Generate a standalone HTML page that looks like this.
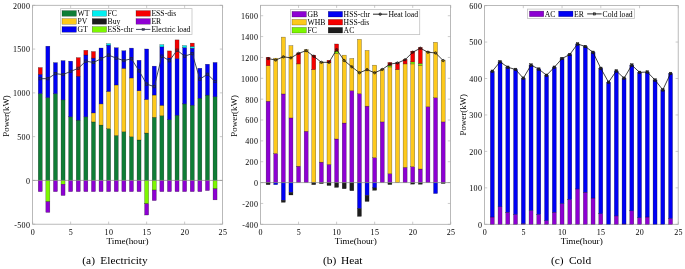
<!DOCTYPE html>
<html><head><meta charset="utf-8"><title>Power balance</title>
<style>html,body{margin:0;padding:0;background:#fff;}body{width:685px;height:269px;overflow:hidden;}svg{display:block;will-change:transform;}</style>
</head><body>
<svg width="685" height="269" viewBox="0 0 685 269" font-family='"Liberation Serif", serif' fill="#000">
<rect width="685" height="269" fill="#fff"/>
<line x1="32.65" y1="224.2" x2="32.65" y2="221.6" stroke="#a8a8a8" stroke-width="0.6"/>
<line x1="32.65" y1="5.3" x2="32.65" y2="7.9" stroke="#a8a8a8" stroke-width="0.6"/>
<text x="32.9" y="234.7" text-anchor="middle" font-size="8" letter-spacing="0.3">0</text>
<line x1="70.65" y1="224.2" x2="70.65" y2="221.6" stroke="#a8a8a8" stroke-width="0.6"/>
<line x1="70.65" y1="5.3" x2="70.65" y2="7.9" stroke="#a8a8a8" stroke-width="0.6"/>
<text x="70.9" y="234.7" text-anchor="middle" font-size="8" letter-spacing="0.3">5</text>
<line x1="108.65" y1="224.2" x2="108.65" y2="221.6" stroke="#a8a8a8" stroke-width="0.6"/>
<line x1="108.65" y1="5.3" x2="108.65" y2="7.9" stroke="#a8a8a8" stroke-width="0.6"/>
<text x="108.9" y="234.7" text-anchor="middle" font-size="8" letter-spacing="0.3">10</text>
<line x1="146.65" y1="224.2" x2="146.65" y2="221.6" stroke="#a8a8a8" stroke-width="0.6"/>
<line x1="146.65" y1="5.3" x2="146.65" y2="7.9" stroke="#a8a8a8" stroke-width="0.6"/>
<text x="146.9" y="234.7" text-anchor="middle" font-size="8" letter-spacing="0.3">15</text>
<line x1="184.65" y1="224.2" x2="184.65" y2="221.6" stroke="#a8a8a8" stroke-width="0.6"/>
<line x1="184.65" y1="5.3" x2="184.65" y2="7.9" stroke="#a8a8a8" stroke-width="0.6"/>
<text x="184.9" y="234.7" text-anchor="middle" font-size="8" letter-spacing="0.3">20</text>
<line x1="222.65" y1="224.2" x2="222.65" y2="221.6" stroke="#a8a8a8" stroke-width="0.6"/>
<line x1="222.65" y1="5.3" x2="222.65" y2="7.9" stroke="#a8a8a8" stroke-width="0.6"/>
<text x="222.9" y="234.7" text-anchor="middle" font-size="8" letter-spacing="0.3">25</text>
<line x1="32.6" y1="224.2" x2="35.2" y2="224.2" stroke="#a8a8a8" stroke-width="0.6"/>
<line x1="222.4" y1="224.2" x2="219.8" y2="224.2" stroke="#a8a8a8" stroke-width="0.6"/>
<text x="30.2" y="227.6" text-anchor="end" font-size="8" letter-spacing="0.3">-500</text>
<line x1="32.6" y1="180.42" x2="35.2" y2="180.42" stroke="#a8a8a8" stroke-width="0.6"/>
<line x1="222.4" y1="180.42" x2="219.8" y2="180.42" stroke="#a8a8a8" stroke-width="0.6"/>
<text x="30.2" y="183.82" text-anchor="end" font-size="8" letter-spacing="0.3">0</text>
<line x1="32.6" y1="136.64" x2="35.2" y2="136.64" stroke="#a8a8a8" stroke-width="0.6"/>
<line x1="222.4" y1="136.64" x2="219.8" y2="136.64" stroke="#a8a8a8" stroke-width="0.6"/>
<text x="30.2" y="140.04" text-anchor="end" font-size="8" letter-spacing="0.3">500</text>
<line x1="32.6" y1="92.86" x2="35.2" y2="92.86" stroke="#a8a8a8" stroke-width="0.6"/>
<line x1="222.4" y1="92.86" x2="219.8" y2="92.86" stroke="#a8a8a8" stroke-width="0.6"/>
<text x="30.2" y="96.26" text-anchor="end" font-size="8" letter-spacing="0.3">1000</text>
<line x1="32.6" y1="49.08" x2="35.2" y2="49.08" stroke="#a8a8a8" stroke-width="0.6"/>
<line x1="222.4" y1="49.08" x2="219.8" y2="49.08" stroke="#a8a8a8" stroke-width="0.6"/>
<text x="30.2" y="52.48" text-anchor="end" font-size="8" letter-spacing="0.3">1500</text>
<line x1="32.6" y1="5.3" x2="35.2" y2="5.3" stroke="#a8a8a8" stroke-width="0.6"/>
<line x1="222.4" y1="5.3" x2="219.8" y2="5.3" stroke="#a8a8a8" stroke-width="0.6"/>
<text x="30.2" y="8.7" text-anchor="end" font-size="8" letter-spacing="0.3">2000</text>
<rect x="32.6" y="5.3" width="189.8" height="218.9" fill="none" stroke="#a8a8a8" stroke-width="0.8"/>
<rect x="38.25" y="93.56" width="4" height="86.86" fill="#0f7d36" stroke="rgba(0,0,0,0.6)" stroke-width="0.4"/>
<rect x="38.25" y="74.3" width="4" height="19.26" fill="#0000f5" stroke="rgba(0,0,0,0.6)" stroke-width="0.4"/>
<rect x="38.25" y="67.56" width="4" height="6.74" fill="#f50000" stroke="rgba(0,0,0,0.6)" stroke-width="0.4"/>
<rect x="38.25" y="180.42" width="4" height="11.21" fill="#8d00d3" stroke="rgba(0,0,0,0.6)" stroke-width="0.4"/>
<rect x="45.85" y="97.68" width="4" height="82.74" fill="#0f7d36" stroke="rgba(0,0,0,0.6)" stroke-width="0.4"/>
<rect x="45.85" y="46.19" width="4" height="51.49" fill="#0000f5" stroke="rgba(0,0,0,0.6)" stroke-width="0.4"/>
<rect x="45.85" y="180.42" width="4" height="21.28" fill="#7df700" stroke="rgba(0,0,0,0.6)" stroke-width="0.4"/>
<rect x="45.85" y="201.7" width="4" height="10.68" fill="#8d00d3" stroke="rgba(0,0,0,0.6)" stroke-width="0.4"/>
<rect x="53.45" y="93.74" width="4" height="86.68" fill="#0f7d36" stroke="rgba(0,0,0,0.6)" stroke-width="0.4"/>
<rect x="53.45" y="62.65" width="4" height="31.08" fill="#0000f5" stroke="rgba(0,0,0,0.6)" stroke-width="0.4"/>
<rect x="53.45" y="180.42" width="4" height="11.21" fill="#8d00d3" stroke="rgba(0,0,0,0.6)" stroke-width="0.4"/>
<rect x="61.05" y="99.86" width="4" height="80.56" fill="#0f7d36" stroke="rgba(0,0,0,0.6)" stroke-width="0.4"/>
<rect x="61.05" y="60.64" width="4" height="39.23" fill="#0000f5" stroke="rgba(0,0,0,0.6)" stroke-width="0.4"/>
<rect x="61.05" y="180.42" width="4" height="3.85" fill="#7df700" stroke="rgba(0,0,0,0.6)" stroke-width="0.4"/>
<rect x="61.05" y="184.27" width="4" height="11.21" fill="#8d00d3" stroke="rgba(0,0,0,0.6)" stroke-width="0.4"/>
<rect x="68.65" y="116.85" width="4" height="63.57" fill="#0f7d36" stroke="rgba(0,0,0,0.6)" stroke-width="0.4"/>
<rect x="68.65" y="61.16" width="4" height="55.69" fill="#0000f5" stroke="rgba(0,0,0,0.6)" stroke-width="0.4"/>
<rect x="68.65" y="180.42" width="4" height="11.21" fill="#8d00d3" stroke="rgba(0,0,0,0.6)" stroke-width="0.4"/>
<rect x="76.25" y="120.18" width="4" height="60.24" fill="#0f7d36" stroke="rgba(0,0,0,0.6)" stroke-width="0.4"/>
<rect x="76.25" y="76.22" width="4" height="43.96" fill="#0000f5" stroke="rgba(0,0,0,0.6)" stroke-width="0.4"/>
<rect x="76.25" y="57.66" width="4" height="18.56" fill="#f50000" stroke="rgba(0,0,0,0.6)" stroke-width="0.4"/>
<rect x="76.25" y="180.42" width="4" height="11.21" fill="#8d00d3" stroke="rgba(0,0,0,0.6)" stroke-width="0.4"/>
<rect x="83.85" y="116.85" width="4" height="63.57" fill="#0f7d36" stroke="rgba(0,0,0,0.6)" stroke-width="0.4"/>
<rect x="83.85" y="55.03" width="4" height="61.82" fill="#0000f5" stroke="rgba(0,0,0,0.6)" stroke-width="0.4"/>
<rect x="83.85" y="50.31" width="4" height="4.73" fill="#f50000" stroke="rgba(0,0,0,0.6)" stroke-width="0.4"/>
<rect x="83.85" y="180.42" width="4" height="11.21" fill="#8d00d3" stroke="rgba(0,0,0,0.6)" stroke-width="0.4"/>
<rect x="91.45" y="121.93" width="4" height="58.49" fill="#0f7d36" stroke="rgba(0,0,0,0.6)" stroke-width="0.4"/>
<rect x="91.45" y="112.91" width="4" height="9.02" fill="#fdc91c" stroke="rgba(0,0,0,0.6)" stroke-width="0.4"/>
<rect x="91.45" y="58.1" width="4" height="54.81" fill="#0000f5" stroke="rgba(0,0,0,0.6)" stroke-width="0.4"/>
<rect x="91.45" y="51.53" width="4" height="6.57" fill="#f50000" stroke="rgba(0,0,0,0.6)" stroke-width="0.4"/>
<rect x="91.45" y="180.42" width="4" height="11.21" fill="#8d00d3" stroke="rgba(0,0,0,0.6)" stroke-width="0.4"/>
<rect x="99.05" y="125.08" width="4" height="55.34" fill="#0f7d36" stroke="rgba(0,0,0,0.6)" stroke-width="0.4"/>
<rect x="99.05" y="103.89" width="4" height="21.19" fill="#fdc91c" stroke="rgba(0,0,0,0.6)" stroke-width="0.4"/>
<rect x="99.05" y="48.03" width="4" height="55.86" fill="#0000f5" stroke="rgba(0,0,0,0.6)" stroke-width="0.4"/>
<rect x="99.05" y="180.42" width="4" height="11.21" fill="#8d00d3" stroke="rgba(0,0,0,0.6)" stroke-width="0.4"/>
<rect x="106.65" y="128.67" width="4" height="51.75" fill="#0f7d36" stroke="rgba(0,0,0,0.6)" stroke-width="0.4"/>
<rect x="106.65" y="91.46" width="4" height="37.21" fill="#fdc91c" stroke="rgba(0,0,0,0.6)" stroke-width="0.4"/>
<rect x="106.65" y="45.14" width="4" height="46.32" fill="#0000f5" stroke="rgba(0,0,0,0.6)" stroke-width="0.4"/>
<rect x="106.65" y="43.65" width="4" height="1.49" fill="#00f0f0" stroke="rgba(0,0,0,0.6)" stroke-width="0.4"/>
<rect x="106.65" y="180.42" width="4" height="11.21" fill="#8d00d3" stroke="rgba(0,0,0,0.6)" stroke-width="0.4"/>
<rect x="114.25" y="135.5" width="4" height="44.92" fill="#0f7d36" stroke="rgba(0,0,0,0.6)" stroke-width="0.4"/>
<rect x="114.25" y="84.98" width="4" height="50.52" fill="#fdc91c" stroke="rgba(0,0,0,0.6)" stroke-width="0.4"/>
<rect x="114.25" y="47.77" width="4" height="37.21" fill="#0000f5" stroke="rgba(0,0,0,0.6)" stroke-width="0.4"/>
<rect x="114.25" y="180.42" width="4" height="11.21" fill="#8d00d3" stroke="rgba(0,0,0,0.6)" stroke-width="0.4"/>
<rect x="121.85" y="131.82" width="4" height="48.6" fill="#0f7d36" stroke="rgba(0,0,0,0.6)" stroke-width="0.4"/>
<rect x="121.85" y="68.34" width="4" height="63.48" fill="#fdc91c" stroke="rgba(0,0,0,0.6)" stroke-width="0.4"/>
<rect x="121.85" y="50.74" width="4" height="17.6" fill="#0000f5" stroke="rgba(0,0,0,0.6)" stroke-width="0.4"/>
<rect x="121.85" y="180.42" width="4" height="11.21" fill="#8d00d3" stroke="rgba(0,0,0,0.6)" stroke-width="0.4"/>
<rect x="129.45" y="136.82" width="4" height="43.6" fill="#0f7d36" stroke="rgba(0,0,0,0.6)" stroke-width="0.4"/>
<rect x="129.45" y="77.97" width="4" height="58.84" fill="#fdc91c" stroke="rgba(0,0,0,0.6)" stroke-width="0.4"/>
<rect x="129.45" y="48.12" width="4" height="29.86" fill="#0000f5" stroke="rgba(0,0,0,0.6)" stroke-width="0.4"/>
<rect x="129.45" y="180.42" width="4" height="11.21" fill="#8d00d3" stroke="rgba(0,0,0,0.6)" stroke-width="0.4"/>
<rect x="137.05" y="139.97" width="4" height="40.45" fill="#0f7d36" stroke="rgba(0,0,0,0.6)" stroke-width="0.4"/>
<rect x="137.05" y="90.76" width="4" height="49.21" fill="#fdc91c" stroke="rgba(0,0,0,0.6)" stroke-width="0.4"/>
<rect x="137.05" y="60.29" width="4" height="30.47" fill="#0000f5" stroke="rgba(0,0,0,0.6)" stroke-width="0.4"/>
<rect x="137.05" y="180.42" width="4" height="11.21" fill="#8d00d3" stroke="rgba(0,0,0,0.6)" stroke-width="0.4"/>
<rect x="144.65" y="133.05" width="4" height="47.37" fill="#0f7d36" stroke="rgba(0,0,0,0.6)" stroke-width="0.4"/>
<rect x="144.65" y="99.51" width="4" height="33.54" fill="#fdc91c" stroke="rgba(0,0,0,0.6)" stroke-width="0.4"/>
<rect x="144.65" y="48.99" width="4" height="50.52" fill="#0000f5" stroke="rgba(0,0,0,0.6)" stroke-width="0.4"/>
<rect x="144.65" y="180.42" width="4" height="23.38" fill="#7df700" stroke="rgba(0,0,0,0.6)" stroke-width="0.4"/>
<rect x="144.65" y="203.8" width="4" height="11.21" fill="#8d00d3" stroke="rgba(0,0,0,0.6)" stroke-width="0.4"/>
<rect x="152.25" y="117.29" width="4" height="63.13" fill="#0f7d36" stroke="rgba(0,0,0,0.6)" stroke-width="0.4"/>
<rect x="152.25" y="95.05" width="4" height="22.24" fill="#fdc91c" stroke="rgba(0,0,0,0.6)" stroke-width="0.4"/>
<rect x="152.25" y="66.15" width="4" height="28.89" fill="#0000f5" stroke="rgba(0,0,0,0.6)" stroke-width="0.4"/>
<rect x="152.25" y="180.42" width="4" height="9.63" fill="#7df700" stroke="rgba(0,0,0,0.6)" stroke-width="0.4"/>
<rect x="152.25" y="190.05" width="4" height="10.51" fill="#8d00d3" stroke="rgba(0,0,0,0.6)" stroke-width="0.4"/>
<rect x="159.85" y="115.8" width="4" height="64.62" fill="#0f7d36" stroke="rgba(0,0,0,0.6)" stroke-width="0.4"/>
<rect x="159.85" y="105.29" width="4" height="10.51" fill="#fdc91c" stroke="rgba(0,0,0,0.6)" stroke-width="0.4"/>
<rect x="159.85" y="46.89" width="4" height="58.4" fill="#0000f5" stroke="rgba(0,0,0,0.6)" stroke-width="0.4"/>
<rect x="159.85" y="44.7" width="4" height="2.19" fill="#00f0f0" stroke="rgba(0,0,0,0.6)" stroke-width="0.4"/>
<rect x="159.85" y="180.42" width="4" height="11.21" fill="#8d00d3" stroke="rgba(0,0,0,0.6)" stroke-width="0.4"/>
<rect x="167.45" y="119.74" width="4" height="60.68" fill="#0f7d36" stroke="rgba(0,0,0,0.6)" stroke-width="0.4"/>
<rect x="167.45" y="58.01" width="4" height="61.73" fill="#0000f5" stroke="rgba(0,0,0,0.6)" stroke-width="0.4"/>
<rect x="167.45" y="50.92" width="4" height="7.09" fill="#f50000" stroke="rgba(0,0,0,0.6)" stroke-width="0.4"/>
<rect x="167.45" y="180.42" width="4" height="11.21" fill="#8d00d3" stroke="rgba(0,0,0,0.6)" stroke-width="0.4"/>
<rect x="175.05" y="115.28" width="4" height="65.14" fill="#0f7d36" stroke="rgba(0,0,0,0.6)" stroke-width="0.4"/>
<rect x="175.05" y="58.45" width="4" height="56.83" fill="#0000f5" stroke="rgba(0,0,0,0.6)" stroke-width="0.4"/>
<rect x="175.05" y="39.89" width="4" height="18.56" fill="#f50000" stroke="rgba(0,0,0,0.6)" stroke-width="0.4"/>
<rect x="175.05" y="180.42" width="4" height="11.21" fill="#8d00d3" stroke="rgba(0,0,0,0.6)" stroke-width="0.4"/>
<rect x="182.65" y="103.89" width="4" height="76.53" fill="#0f7d36" stroke="rgba(0,0,0,0.6)" stroke-width="0.4"/>
<rect x="182.65" y="47.59" width="4" height="56.3" fill="#0000f5" stroke="rgba(0,0,0,0.6)" stroke-width="0.4"/>
<rect x="182.65" y="45.58" width="4" height="2.01" fill="#00f0f0" stroke="rgba(0,0,0,0.6)" stroke-width="0.4"/>
<rect x="182.65" y="180.42" width="4" height="11.21" fill="#8d00d3" stroke="rgba(0,0,0,0.6)" stroke-width="0.4"/>
<rect x="190.25" y="105.29" width="4" height="75.13" fill="#0f7d36" stroke="rgba(0,0,0,0.6)" stroke-width="0.4"/>
<rect x="190.25" y="48.2" width="4" height="57.09" fill="#0000f5" stroke="rgba(0,0,0,0.6)" stroke-width="0.4"/>
<rect x="190.25" y="46.45" width="4" height="1.75" fill="#00f0f0" stroke="rgba(0,0,0,0.6)" stroke-width="0.4"/>
<rect x="190.25" y="43.13" width="4" height="3.33" fill="#f50000" stroke="rgba(0,0,0,0.6)" stroke-width="0.4"/>
<rect x="190.25" y="180.42" width="4" height="11.21" fill="#8d00d3" stroke="rgba(0,0,0,0.6)" stroke-width="0.4"/>
<rect x="197.85" y="98.29" width="4" height="82.13" fill="#0f7d36" stroke="rgba(0,0,0,0.6)" stroke-width="0.4"/>
<rect x="197.85" y="68.26" width="4" height="30.03" fill="#0000f5" stroke="rgba(0,0,0,0.6)" stroke-width="0.4"/>
<rect x="197.85" y="180.42" width="4" height="11.21" fill="#8d00d3" stroke="rgba(0,0,0,0.6)" stroke-width="0.4"/>
<rect x="205.45" y="95.14" width="4" height="85.28" fill="#0f7d36" stroke="rgba(0,0,0,0.6)" stroke-width="0.4"/>
<rect x="205.45" y="64.23" width="4" height="30.91" fill="#0000f5" stroke="rgba(0,0,0,0.6)" stroke-width="0.4"/>
<rect x="205.45" y="180.42" width="4" height="10.16" fill="#8d00d3" stroke="rgba(0,0,0,0.6)" stroke-width="0.4"/>
<rect x="213.05" y="96.8" width="4" height="83.62" fill="#0f7d36" stroke="rgba(0,0,0,0.6)" stroke-width="0.4"/>
<rect x="213.05" y="62.48" width="4" height="34.32" fill="#0000f5" stroke="rgba(0,0,0,0.6)" stroke-width="0.4"/>
<rect x="213.05" y="180.42" width="4" height="8.41" fill="#7df700" stroke="rgba(0,0,0,0.6)" stroke-width="0.4"/>
<rect x="213.05" y="188.83" width="4" height="11.03" fill="#8d00d3" stroke="rgba(0,0,0,0.6)" stroke-width="0.4"/>
<line x1="32.6" y1="180.42" x2="222.4" y2="180.42" stroke="#8a8a8a" stroke-width="0.7"/>
<polyline points="40.25,78.68 47.85,78.68 55.45,73.68 63.05,74.56 70.65,71.41 78.25,68.34 85.85,61.16 93.45,62.48 101.05,58.8 108.65,55.12 116.25,58.19 123.85,60.55 131.45,58.8 139.05,70.88 146.65,84.1 154.25,86.64 161.85,56.17 169.45,60.73 177.05,50.22 184.65,56.17 192.25,53.63 199.85,79.11 207.45,74.3 215.05,81.48" fill="none" stroke="#2e3650" stroke-width="0.9"/>
<rect x="39.05" y="77.48" width="2.4" height="2.4" fill="none" stroke="#1c2136" stroke-width="0.7"/>
<rect x="46.65" y="77.48" width="2.4" height="2.4" fill="none" stroke="#1c2136" stroke-width="0.7"/>
<rect x="54.25" y="72.48" width="2.4" height="2.4" fill="none" stroke="#1c2136" stroke-width="0.7"/>
<rect x="61.85" y="73.36" width="2.4" height="2.4" fill="none" stroke="#1c2136" stroke-width="0.7"/>
<rect x="69.45" y="70.21" width="2.4" height="2.4" fill="none" stroke="#1c2136" stroke-width="0.7"/>
<rect x="77.05" y="67.14" width="2.4" height="2.4" fill="none" stroke="#1c2136" stroke-width="0.7"/>
<rect x="84.65" y="59.96" width="2.4" height="2.4" fill="none" stroke="#1c2136" stroke-width="0.7"/>
<rect x="92.25" y="61.28" width="2.4" height="2.4" fill="none" stroke="#1c2136" stroke-width="0.7"/>
<rect x="99.85" y="57.6" width="2.4" height="2.4" fill="none" stroke="#1c2136" stroke-width="0.7"/>
<rect x="107.45" y="53.92" width="2.4" height="2.4" fill="none" stroke="#1c2136" stroke-width="0.7"/>
<rect x="115.05" y="56.99" width="2.4" height="2.4" fill="none" stroke="#1c2136" stroke-width="0.7"/>
<rect x="122.65" y="59.35" width="2.4" height="2.4" fill="none" stroke="#1c2136" stroke-width="0.7"/>
<rect x="130.25" y="57.6" width="2.4" height="2.4" fill="none" stroke="#1c2136" stroke-width="0.7"/>
<rect x="137.85" y="69.68" width="2.4" height="2.4" fill="none" stroke="#1c2136" stroke-width="0.7"/>
<rect x="145.45" y="82.9" width="2.4" height="2.4" fill="none" stroke="#1c2136" stroke-width="0.7"/>
<rect x="153.05" y="85.44" width="2.4" height="2.4" fill="none" stroke="#1c2136" stroke-width="0.7"/>
<rect x="160.65" y="54.97" width="2.4" height="2.4" fill="none" stroke="#1c2136" stroke-width="0.7"/>
<rect x="168.25" y="59.53" width="2.4" height="2.4" fill="none" stroke="#1c2136" stroke-width="0.7"/>
<rect x="175.85" y="49.02" width="2.4" height="2.4" fill="none" stroke="#1c2136" stroke-width="0.7"/>
<rect x="183.45" y="54.97" width="2.4" height="2.4" fill="none" stroke="#1c2136" stroke-width="0.7"/>
<rect x="191.05" y="52.43" width="2.4" height="2.4" fill="none" stroke="#1c2136" stroke-width="0.7"/>
<rect x="198.65" y="77.91" width="2.4" height="2.4" fill="none" stroke="#1c2136" stroke-width="0.7"/>
<rect x="206.25" y="73.1" width="2.4" height="2.4" fill="none" stroke="#1c2136" stroke-width="0.7"/>
<rect x="213.85" y="80.28" width="2.4" height="2.4" fill="none" stroke="#1c2136" stroke-width="0.7"/>
<rect x="60.6" y="8.6" width="131.4" height="25.8" fill="#fff" stroke="#c2c2c2" stroke-width="0.8"/>
<rect x="62" y="10.6" width="14.4" height="5.6" fill="#0f7d36" stroke="rgba(0,0,0,0.55)" stroke-width="0.4"/>
<text x="77.4" y="16" font-size="7.7">WT</text>
<rect x="62" y="18.6" width="14.4" height="5.6" fill="#fdc91c" stroke="rgba(0,0,0,0.55)" stroke-width="0.4"/>
<text x="77.4" y="24" font-size="7.7">PV</text>
<rect x="62" y="26.6" width="14.4" height="5.6" fill="#0000f5" stroke="rgba(0,0,0,0.55)" stroke-width="0.4"/>
<text x="77.4" y="32" font-size="7.7">GT</text>
<rect x="92.2" y="10.6" width="14.4" height="5.6" fill="#00f0f0" stroke="rgba(0,0,0,0.55)" stroke-width="0.4"/>
<text x="107.6" y="16" font-size="7.7">FC</text>
<rect x="92.2" y="18.6" width="14.4" height="5.6" fill="#1c1c1c" stroke="rgba(0,0,0,0.55)" stroke-width="0.4"/>
<text x="107.6" y="24" font-size="7.7">Buy</text>
<rect x="92.2" y="26.6" width="14.4" height="5.6" fill="#7df700" stroke="rgba(0,0,0,0.55)" stroke-width="0.4"/>
<text x="107.6" y="32" font-size="7.7">ESS-chr</text>
<rect x="136" y="10.6" width="14.4" height="5.6" fill="#f50000" stroke="rgba(0,0,0,0.55)" stroke-width="0.4"/>
<text x="151.4" y="16" font-size="7.7">ESS-dis</text>
<rect x="136" y="18.6" width="14.4" height="5.6" fill="#8d00d3" stroke="rgba(0,0,0,0.55)" stroke-width="0.4"/>
<text x="151.4" y="24" font-size="7.7">ER</text>
<line x1="136" y1="29.4" x2="150.4" y2="29.4" stroke="#2c3350" stroke-width="0.9"/>
<rect x="142.1" y="28.3" width="2.2" height="2.2" fill="rgba(0,0,0,0.3)" stroke="#2c3350" stroke-width="0.6"/>
<text x="151.4" y="32" font-size="7.7">Electric load</text>
<text transform="translate(6.6 116) rotate(-90)" x="0" y="2.84" text-anchor="middle" font-size="8.6" textLength="41.5" lengthAdjust="spacingAndGlyphs">Power(kW)</text>
<text x="127.6" y="244.3" text-anchor="middle" font-size="9.2">Time(hour)</text>
<text x="82.3" y="263.5" font-size="11.4">(a)</text>
<text x="100.3" y="263.5" font-size="11.4">Electricity</text>
<line x1="260.5" y1="224.3" x2="260.5" y2="221.7" stroke="#a8a8a8" stroke-width="0.6"/>
<line x1="260.5" y1="5.3" x2="260.5" y2="7.9" stroke="#a8a8a8" stroke-width="0.6"/>
<text x="260.75" y="234.7" text-anchor="middle" font-size="8" letter-spacing="0.3">0</text>
<line x1="298.56" y1="224.3" x2="298.56" y2="221.7" stroke="#a8a8a8" stroke-width="0.6"/>
<line x1="298.56" y1="5.3" x2="298.56" y2="7.9" stroke="#a8a8a8" stroke-width="0.6"/>
<text x="298.81" y="234.7" text-anchor="middle" font-size="8" letter-spacing="0.3">5</text>
<line x1="336.61" y1="224.3" x2="336.61" y2="221.7" stroke="#a8a8a8" stroke-width="0.6"/>
<line x1="336.61" y1="5.3" x2="336.61" y2="7.9" stroke="#a8a8a8" stroke-width="0.6"/>
<text x="336.86" y="234.7" text-anchor="middle" font-size="8" letter-spacing="0.3">10</text>
<line x1="374.66" y1="224.3" x2="374.66" y2="221.7" stroke="#a8a8a8" stroke-width="0.6"/>
<line x1="374.66" y1="5.3" x2="374.66" y2="7.9" stroke="#a8a8a8" stroke-width="0.6"/>
<text x="374.91" y="234.7" text-anchor="middle" font-size="8" letter-spacing="0.3">15</text>
<line x1="412.72" y1="224.3" x2="412.72" y2="221.7" stroke="#a8a8a8" stroke-width="0.6"/>
<line x1="412.72" y1="5.3" x2="412.72" y2="7.9" stroke="#a8a8a8" stroke-width="0.6"/>
<text x="412.97" y="234.7" text-anchor="middle" font-size="8" letter-spacing="0.3">20</text>
<line x1="450.77" y1="224.3" x2="450.77" y2="221.7" stroke="#a8a8a8" stroke-width="0.6"/>
<line x1="450.77" y1="5.3" x2="450.77" y2="7.9" stroke="#a8a8a8" stroke-width="0.6"/>
<text x="451.02" y="234.7" text-anchor="middle" font-size="8" letter-spacing="0.3">25</text>
<line x1="260.6" y1="224.3" x2="263.2" y2="224.3" stroke="#a8a8a8" stroke-width="0.6"/>
<line x1="450.4" y1="224.3" x2="447.8" y2="224.3" stroke="#a8a8a8" stroke-width="0.6"/>
<text x="258.2" y="227.7" text-anchor="end" font-size="8" letter-spacing="0.3">-400</text>
<line x1="260.6" y1="203.44" x2="263.2" y2="203.44" stroke="#a8a8a8" stroke-width="0.6"/>
<line x1="450.4" y1="203.44" x2="447.8" y2="203.44" stroke="#a8a8a8" stroke-width="0.6"/>
<text x="258.2" y="206.84" text-anchor="end" font-size="8" letter-spacing="0.3">-200</text>
<line x1="260.6" y1="182.59" x2="263.2" y2="182.59" stroke="#a8a8a8" stroke-width="0.6"/>
<line x1="450.4" y1="182.59" x2="447.8" y2="182.59" stroke="#a8a8a8" stroke-width="0.6"/>
<text x="258.2" y="185.99" text-anchor="end" font-size="8" letter-spacing="0.3">0</text>
<line x1="260.6" y1="161.73" x2="263.2" y2="161.73" stroke="#a8a8a8" stroke-width="0.6"/>
<line x1="450.4" y1="161.73" x2="447.8" y2="161.73" stroke="#a8a8a8" stroke-width="0.6"/>
<text x="258.2" y="165.13" text-anchor="end" font-size="8" letter-spacing="0.3">200</text>
<line x1="260.6" y1="140.87" x2="263.2" y2="140.87" stroke="#a8a8a8" stroke-width="0.6"/>
<line x1="450.4" y1="140.87" x2="447.8" y2="140.87" stroke="#a8a8a8" stroke-width="0.6"/>
<text x="258.2" y="144.27" text-anchor="end" font-size="8" letter-spacing="0.3">400</text>
<line x1="260.6" y1="120.01" x2="263.2" y2="120.01" stroke="#a8a8a8" stroke-width="0.6"/>
<line x1="450.4" y1="120.01" x2="447.8" y2="120.01" stroke="#a8a8a8" stroke-width="0.6"/>
<text x="258.2" y="123.41" text-anchor="end" font-size="8" letter-spacing="0.3">600</text>
<line x1="260.6" y1="99.16" x2="263.2" y2="99.16" stroke="#a8a8a8" stroke-width="0.6"/>
<line x1="450.4" y1="99.16" x2="447.8" y2="99.16" stroke="#a8a8a8" stroke-width="0.6"/>
<text x="258.2" y="102.56" text-anchor="end" font-size="8" letter-spacing="0.3">800</text>
<line x1="260.6" y1="78.3" x2="263.2" y2="78.3" stroke="#a8a8a8" stroke-width="0.6"/>
<line x1="450.4" y1="78.3" x2="447.8" y2="78.3" stroke="#a8a8a8" stroke-width="0.6"/>
<text x="258.2" y="81.7" text-anchor="end" font-size="8" letter-spacing="0.3">1000</text>
<line x1="260.6" y1="57.44" x2="263.2" y2="57.44" stroke="#a8a8a8" stroke-width="0.6"/>
<line x1="450.4" y1="57.44" x2="447.8" y2="57.44" stroke="#a8a8a8" stroke-width="0.6"/>
<text x="258.2" y="60.84" text-anchor="end" font-size="8" letter-spacing="0.3">1200</text>
<line x1="260.6" y1="36.59" x2="263.2" y2="36.59" stroke="#a8a8a8" stroke-width="0.6"/>
<line x1="450.4" y1="36.59" x2="447.8" y2="36.59" stroke="#a8a8a8" stroke-width="0.6"/>
<text x="258.2" y="39.99" text-anchor="end" font-size="8" letter-spacing="0.3">1400</text>
<line x1="260.6" y1="15.73" x2="263.2" y2="15.73" stroke="#a8a8a8" stroke-width="0.6"/>
<line x1="450.4" y1="15.73" x2="447.8" y2="15.73" stroke="#a8a8a8" stroke-width="0.6"/>
<text x="258.2" y="19.13" text-anchor="end" font-size="8" letter-spacing="0.3">1600</text>
<rect x="260.6" y="5.3" width="189.8" height="219" fill="none" stroke="#a8a8a8" stroke-width="0.8"/>
<rect x="266.11" y="101.24" width="4" height="81.34" fill="#8d00d3" stroke="rgba(0,0,0,0.6)" stroke-width="0.4"/>
<rect x="266.11" y="65.68" width="4" height="35.56" fill="#fdc91c" stroke="rgba(0,0,0,0.6)" stroke-width="0.4"/>
<rect x="266.11" y="57.23" width="4" height="8.45" fill="#f50000" stroke="rgba(0,0,0,0.6)" stroke-width="0.4"/>
<rect x="266.11" y="182.59" width="4" height="2.09" fill="#1c1c1c" stroke="rgba(0,0,0,0.6)" stroke-width="0.4"/>
<rect x="273.72" y="153.49" width="4" height="29.1" fill="#8d00d3" stroke="rgba(0,0,0,0.6)" stroke-width="0.4"/>
<rect x="273.72" y="58.17" width="4" height="95.32" fill="#fdc91c" stroke="rgba(0,0,0,0.6)" stroke-width="0.4"/>
<rect x="273.72" y="182.59" width="4" height="2.09" fill="#0000f5" stroke="rgba(0,0,0,0.6)" stroke-width="0.4"/>
<rect x="281.33" y="93.94" width="4" height="88.64" fill="#8d00d3" stroke="rgba(0,0,0,0.6)" stroke-width="0.4"/>
<rect x="281.33" y="37.11" width="4" height="56.84" fill="#fdc91c" stroke="rgba(0,0,0,0.6)" stroke-width="0.4"/>
<rect x="281.33" y="182.59" width="4" height="17.73" fill="#0000f5" stroke="rgba(0,0,0,0.6)" stroke-width="0.4"/>
<rect x="281.33" y="200.31" width="4" height="1.98" fill="#1c1c1c" stroke="rgba(0,0,0,0.6)" stroke-width="0.4"/>
<rect x="288.94" y="117.93" width="4" height="64.66" fill="#8d00d3" stroke="rgba(0,0,0,0.6)" stroke-width="0.4"/>
<rect x="288.94" y="45.66" width="4" height="72.27" fill="#fdc91c" stroke="rgba(0,0,0,0.6)" stroke-width="0.4"/>
<rect x="288.94" y="182.59" width="4" height="9.91" fill="#0000f5" stroke="rgba(0,0,0,0.6)" stroke-width="0.4"/>
<rect x="288.94" y="192.49" width="4" height="2.5" fill="#1c1c1c" stroke="rgba(0,0,0,0.6)" stroke-width="0.4"/>
<rect x="296.56" y="166.21" width="4" height="16.37" fill="#8d00d3" stroke="rgba(0,0,0,0.6)" stroke-width="0.4"/>
<rect x="296.56" y="63.91" width="4" height="102.3" fill="#fdc91c" stroke="rgba(0,0,0,0.6)" stroke-width="0.4"/>
<rect x="296.56" y="52.96" width="4" height="10.95" fill="#f50000" stroke="rgba(0,0,0,0.6)" stroke-width="0.4"/>
<rect x="304.17" y="131.28" width="4" height="51.31" fill="#8d00d3" stroke="rgba(0,0,0,0.6)" stroke-width="0.4"/>
<rect x="304.17" y="49.62" width="4" height="81.66" fill="#fdc91c" stroke="rgba(0,0,0,0.6)" stroke-width="0.4"/>
<rect x="311.78" y="69.64" width="4" height="112.94" fill="#fdc91c" stroke="rgba(0,0,0,0.6)" stroke-width="0.4"/>
<rect x="311.78" y="55.15" width="4" height="14.5" fill="#f50000" stroke="rgba(0,0,0,0.6)" stroke-width="0.4"/>
<rect x="311.78" y="182.59" width="4" height="2.09" fill="#1c1c1c" stroke="rgba(0,0,0,0.6)" stroke-width="0.4"/>
<rect x="319.39" y="162.15" width="4" height="20.44" fill="#8d00d3" stroke="rgba(0,0,0,0.6)" stroke-width="0.4"/>
<rect x="319.39" y="61.93" width="4" height="100.22" fill="#fdc91c" stroke="rgba(0,0,0,0.6)" stroke-width="0.4"/>
<rect x="319.39" y="182.59" width="4" height="1.04" fill="#1c1c1c" stroke="rgba(0,0,0,0.6)" stroke-width="0.4"/>
<rect x="327" y="164.44" width="4" height="18.15" fill="#8d00d3" stroke="rgba(0,0,0,0.6)" stroke-width="0.4"/>
<rect x="327" y="62.76" width="4" height="101.68" fill="#fdc91c" stroke="rgba(0,0,0,0.6)" stroke-width="0.4"/>
<rect x="327" y="60.26" width="4" height="2.5" fill="#f50000" stroke="rgba(0,0,0,0.6)" stroke-width="0.4"/>
<rect x="327" y="182.59" width="4" height="2.92" fill="#1c1c1c" stroke="rgba(0,0,0,0.6)" stroke-width="0.4"/>
<rect x="334.61" y="138.99" width="4" height="43.59" fill="#8d00d3" stroke="rgba(0,0,0,0.6)" stroke-width="0.4"/>
<rect x="334.61" y="53.38" width="4" height="85.62" fill="#fdc91c" stroke="rgba(0,0,0,0.6)" stroke-width="0.4"/>
<rect x="334.61" y="51.19" width="4" height="2.19" fill="#7df700" stroke="rgba(0,0,0,0.6)" stroke-width="0.4"/>
<rect x="334.61" y="43.99" width="4" height="7.2" fill="#f50000" stroke="rgba(0,0,0,0.6)" stroke-width="0.4"/>
<rect x="334.61" y="182.59" width="4" height="4.8" fill="#1c1c1c" stroke="rgba(0,0,0,0.6)" stroke-width="0.4"/>
<rect x="342.22" y="123.04" width="4" height="59.55" fill="#8d00d3" stroke="rgba(0,0,0,0.6)" stroke-width="0.4"/>
<rect x="342.22" y="55.15" width="4" height="67.89" fill="#fdc91c" stroke="rgba(0,0,0,0.6)" stroke-width="0.4"/>
<rect x="342.22" y="182.59" width="4" height="6.15" fill="#1c1c1c" stroke="rgba(0,0,0,0.6)" stroke-width="0.4"/>
<rect x="349.83" y="90.71" width="4" height="91.88" fill="#8d00d3" stroke="rgba(0,0,0,0.6)" stroke-width="0.4"/>
<rect x="349.83" y="58.49" width="4" height="32.22" fill="#fdc91c" stroke="rgba(0,0,0,0.6)" stroke-width="0.4"/>
<rect x="349.83" y="182.59" width="4" height="8.13" fill="#1c1c1c" stroke="rgba(0,0,0,0.6)" stroke-width="0.4"/>
<rect x="357.44" y="93.73" width="4" height="88.85" fill="#8d00d3" stroke="rgba(0,0,0,0.6)" stroke-width="0.4"/>
<rect x="357.44" y="39.4" width="4" height="54.33" fill="#fdc91c" stroke="rgba(0,0,0,0.6)" stroke-width="0.4"/>
<rect x="357.44" y="182.59" width="4" height="26.07" fill="#0000f5" stroke="rgba(0,0,0,0.6)" stroke-width="0.4"/>
<rect x="357.44" y="208.66" width="4" height="7.72" fill="#1c1c1c" stroke="rgba(0,0,0,0.6)" stroke-width="0.4"/>
<rect x="365.05" y="106.14" width="4" height="76.44" fill="#8d00d3" stroke="rgba(0,0,0,0.6)" stroke-width="0.4"/>
<rect x="365.05" y="50.46" width="4" height="55.69" fill="#fdc91c" stroke="rgba(0,0,0,0.6)" stroke-width="0.4"/>
<rect x="365.05" y="182.59" width="4" height="12.83" fill="#0000f5" stroke="rgba(0,0,0,0.6)" stroke-width="0.4"/>
<rect x="365.05" y="195.41" width="4" height="6.05" fill="#1c1c1c" stroke="rgba(0,0,0,0.6)" stroke-width="0.4"/>
<rect x="372.66" y="157.66" width="4" height="24.92" fill="#8d00d3" stroke="rgba(0,0,0,0.6)" stroke-width="0.4"/>
<rect x="372.66" y="65.16" width="4" height="92.5" fill="#fdc91c" stroke="rgba(0,0,0,0.6)" stroke-width="0.4"/>
<rect x="372.66" y="182.59" width="4" height="5.32" fill="#0000f5" stroke="rgba(0,0,0,0.6)" stroke-width="0.4"/>
<rect x="372.66" y="187.9" width="4" height="2.4" fill="#1c1c1c" stroke="rgba(0,0,0,0.6)" stroke-width="0.4"/>
<rect x="380.28" y="121.89" width="4" height="60.69" fill="#8d00d3" stroke="rgba(0,0,0,0.6)" stroke-width="0.4"/>
<rect x="380.28" y="69.02" width="4" height="52.87" fill="#fdc91c" stroke="rgba(0,0,0,0.6)" stroke-width="0.4"/>
<rect x="387.89" y="173.72" width="4" height="8.86" fill="#8d00d3" stroke="rgba(0,0,0,0.6)" stroke-width="0.4"/>
<rect x="387.89" y="66.93" width="4" height="106.79" fill="#fdc91c" stroke="rgba(0,0,0,0.6)" stroke-width="0.4"/>
<rect x="387.89" y="65.37" width="4" height="1.56" fill="#7df700" stroke="rgba(0,0,0,0.6)" stroke-width="0.4"/>
<rect x="387.89" y="62.45" width="4" height="2.92" fill="#f50000" stroke="rgba(0,0,0,0.6)" stroke-width="0.4"/>
<rect x="387.89" y="182.59" width="4" height="1.98" fill="#1c1c1c" stroke="rgba(0,0,0,0.6)" stroke-width="0.4"/>
<rect x="395.5" y="69.64" width="4" height="112.94" fill="#fdc91c" stroke="rgba(0,0,0,0.6)" stroke-width="0.4"/>
<rect x="395.5" y="62.76" width="4" height="6.88" fill="#f50000" stroke="rgba(0,0,0,0.6)" stroke-width="0.4"/>
<rect x="403.11" y="167.36" width="4" height="15.23" fill="#8d00d3" stroke="rgba(0,0,0,0.6)" stroke-width="0.4"/>
<rect x="403.11" y="63.91" width="4" height="103.45" fill="#fdc91c" stroke="rgba(0,0,0,0.6)" stroke-width="0.4"/>
<rect x="403.11" y="59.42" width="4" height="4.48" fill="#f50000" stroke="rgba(0,0,0,0.6)" stroke-width="0.4"/>
<rect x="410.72" y="166.73" width="4" height="15.85" fill="#8d00d3" stroke="rgba(0,0,0,0.6)" stroke-width="0.4"/>
<rect x="410.72" y="63.91" width="4" height="102.83" fill="#fdc91c" stroke="rgba(0,0,0,0.6)" stroke-width="0.4"/>
<rect x="410.72" y="61.93" width="4" height="1.98" fill="#7df700" stroke="rgba(0,0,0,0.6)" stroke-width="0.4"/>
<rect x="410.72" y="51.19" width="4" height="10.74" fill="#f50000" stroke="rgba(0,0,0,0.6)" stroke-width="0.4"/>
<rect x="410.72" y="182.59" width="4" height="1.56" fill="#1c1c1c" stroke="rgba(0,0,0,0.6)" stroke-width="0.4"/>
<rect x="418.33" y="169.03" width="4" height="13.56" fill="#8d00d3" stroke="rgba(0,0,0,0.6)" stroke-width="0.4"/>
<rect x="418.33" y="65.16" width="4" height="103.87" fill="#fdc91c" stroke="rgba(0,0,0,0.6)" stroke-width="0.4"/>
<rect x="418.33" y="63.49" width="4" height="1.67" fill="#7df700" stroke="rgba(0,0,0,0.6)" stroke-width="0.4"/>
<rect x="418.33" y="47.43" width="4" height="16.06" fill="#f50000" stroke="rgba(0,0,0,0.6)" stroke-width="0.4"/>
<rect x="418.33" y="182.59" width="4" height="1.67" fill="#1c1c1c" stroke="rgba(0,0,0,0.6)" stroke-width="0.4"/>
<rect x="425.94" y="106.77" width="4" height="75.82" fill="#8d00d3" stroke="rgba(0,0,0,0.6)" stroke-width="0.4"/>
<rect x="425.94" y="51.6" width="4" height="55.17" fill="#fdc91c" stroke="rgba(0,0,0,0.6)" stroke-width="0.4"/>
<rect x="433.55" y="97.8" width="4" height="84.78" fill="#8d00d3" stroke="rgba(0,0,0,0.6)" stroke-width="0.4"/>
<rect x="433.55" y="42.32" width="4" height="55.48" fill="#fdc91c" stroke="rgba(0,0,0,0.6)" stroke-width="0.4"/>
<rect x="433.55" y="182.59" width="4" height="10.95" fill="#0000f5" stroke="rgba(0,0,0,0.6)" stroke-width="0.4"/>
<rect x="441.16" y="121.89" width="4" height="60.69" fill="#8d00d3" stroke="rgba(0,0,0,0.6)" stroke-width="0.4"/>
<rect x="441.16" y="60.05" width="4" height="61.84" fill="#fdc91c" stroke="rgba(0,0,0,0.6)" stroke-width="0.4"/>
<rect x="441.16" y="182.59" width="4" height="0.94" fill="#1c1c1c" stroke="rgba(0,0,0,0.6)" stroke-width="0.4"/>
<line x1="260.6" y1="182.59" x2="450.4" y2="182.59" stroke="#8a8a8a" stroke-width="0.7"/>
<polyline points="268.11,58.59 275.72,60.05 283.33,56.82 290.94,57.86 298.56,53.38 306.17,50.66 313.78,56.3 321.39,62.34 329,62.34 336.61,49.62 344.22,60.57 351.83,66.83 359.44,72.77 367.05,69.64 374.66,72.77 382.28,69.44 389.89,64.12 397.5,62.97 405.11,59.74 412.72,52.23 420.33,48.27 427.94,52.23 435.55,52.96 443.16,60.57" fill="none" stroke="#111" stroke-width="0.8"/>
<circle cx="268.11" cy="58.59" r="1.15" fill="rgba(0,0,0,0.15)" stroke="#151515" stroke-width="0.8"/>
<circle cx="275.72" cy="60.05" r="1.15" fill="rgba(0,0,0,0.15)" stroke="#151515" stroke-width="0.8"/>
<circle cx="283.33" cy="56.82" r="1.15" fill="rgba(0,0,0,0.15)" stroke="#151515" stroke-width="0.8"/>
<circle cx="290.94" cy="57.86" r="1.15" fill="rgba(0,0,0,0.15)" stroke="#151515" stroke-width="0.8"/>
<circle cx="298.56" cy="53.38" r="1.15" fill="rgba(0,0,0,0.15)" stroke="#151515" stroke-width="0.8"/>
<circle cx="306.17" cy="50.66" r="1.15" fill="rgba(0,0,0,0.15)" stroke="#151515" stroke-width="0.8"/>
<circle cx="313.78" cy="56.3" r="1.15" fill="rgba(0,0,0,0.15)" stroke="#151515" stroke-width="0.8"/>
<circle cx="321.39" cy="62.34" r="1.15" fill="rgba(0,0,0,0.15)" stroke="#151515" stroke-width="0.8"/>
<circle cx="329" cy="62.34" r="1.15" fill="rgba(0,0,0,0.15)" stroke="#151515" stroke-width="0.8"/>
<circle cx="336.61" cy="49.62" r="1.15" fill="rgba(0,0,0,0.15)" stroke="#151515" stroke-width="0.8"/>
<circle cx="344.22" cy="60.57" r="1.15" fill="rgba(0,0,0,0.15)" stroke="#151515" stroke-width="0.8"/>
<circle cx="351.83" cy="66.83" r="1.15" fill="rgba(0,0,0,0.15)" stroke="#151515" stroke-width="0.8"/>
<circle cx="359.44" cy="72.77" r="1.15" fill="rgba(0,0,0,0.15)" stroke="#151515" stroke-width="0.8"/>
<circle cx="367.05" cy="69.64" r="1.15" fill="rgba(0,0,0,0.15)" stroke="#151515" stroke-width="0.8"/>
<circle cx="374.66" cy="72.77" r="1.15" fill="rgba(0,0,0,0.15)" stroke="#151515" stroke-width="0.8"/>
<circle cx="382.28" cy="69.44" r="1.15" fill="rgba(0,0,0,0.15)" stroke="#151515" stroke-width="0.8"/>
<circle cx="389.89" cy="64.12" r="1.15" fill="rgba(0,0,0,0.15)" stroke="#151515" stroke-width="0.8"/>
<circle cx="397.5" cy="62.97" r="1.15" fill="rgba(0,0,0,0.15)" stroke="#151515" stroke-width="0.8"/>
<circle cx="405.11" cy="59.74" r="1.15" fill="rgba(0,0,0,0.15)" stroke="#151515" stroke-width="0.8"/>
<circle cx="412.72" cy="52.23" r="1.15" fill="rgba(0,0,0,0.15)" stroke="#151515" stroke-width="0.8"/>
<circle cx="420.33" cy="48.27" r="1.15" fill="rgba(0,0,0,0.15)" stroke="#151515" stroke-width="0.8"/>
<circle cx="427.94" cy="52.23" r="1.15" fill="rgba(0,0,0,0.15)" stroke="#151515" stroke-width="0.8"/>
<circle cx="435.55" cy="52.96" r="1.15" fill="rgba(0,0,0,0.15)" stroke="#151515" stroke-width="0.8"/>
<circle cx="443.16" cy="60.57" r="1.15" fill="rgba(0,0,0,0.15)" stroke="#151515" stroke-width="0.8"/>
<rect x="290.4" y="9.4" width="129.3" height="25.2" fill="#fff" stroke="#c2c2c2" stroke-width="0.8"/>
<rect x="292" y="11.4" width="14.4" height="5.6" fill="#8d00d3" stroke="rgba(0,0,0,0.55)" stroke-width="0.4"/>
<text x="307.4" y="16.8" font-size="7.7">GB</text>
<rect x="292" y="19.4" width="14.4" height="5.6" fill="#fdc91c" stroke="rgba(0,0,0,0.55)" stroke-width="0.4"/>
<text x="307.4" y="24.8" font-size="7.7">WHB</text>
<rect x="292" y="27.4" width="14.4" height="5.6" fill="#7df700" stroke="rgba(0,0,0,0.55)" stroke-width="0.4"/>
<text x="307.4" y="32.8" font-size="7.7">FC</text>
<rect x="328.2" y="11.4" width="14.4" height="5.6" fill="#0000f5" stroke="rgba(0,0,0,0.55)" stroke-width="0.4"/>
<text x="343.6" y="16.8" font-size="7.7">HSS-chr</text>
<rect x="328.2" y="19.4" width="14.4" height="5.6" fill="#f50000" stroke="rgba(0,0,0,0.55)" stroke-width="0.4"/>
<text x="343.6" y="24.8" font-size="7.7">HSS-dis</text>
<rect x="328.2" y="27.4" width="14.4" height="5.6" fill="#1c1c1c" stroke="rgba(0,0,0,0.55)" stroke-width="0.4"/>
<text x="343.6" y="32.8" font-size="7.7">AC</text>
<line x1="373" y1="14.2" x2="387.4" y2="14.2" stroke="#111" stroke-width="0.9"/>
<circle cx="380.2" cy="14.2" r="1.2" fill="rgba(0,0,0,0.3)" stroke="#111" stroke-width="0.7"/>
<text x="388.4" y="16.8" font-size="7.7">Heat load</text>
<text transform="translate(234.2 115.9) rotate(-90)" x="0" y="2.84" text-anchor="middle" font-size="8.6" textLength="41.5" lengthAdjust="spacingAndGlyphs">Power(kW)</text>
<text x="355.7" y="244.3" text-anchor="middle" font-size="9.2">Time(hour)</text>
<text x="322.9" y="263.5" font-size="11.4">(b)</text>
<text x="341" y="263.5" font-size="11.4">Heat</text>
<line x1="484.55" y1="224.3" x2="484.55" y2="221.7" stroke="#a8a8a8" stroke-width="0.6"/>
<line x1="484.55" y1="5.6" x2="484.55" y2="8.2" stroke="#a8a8a8" stroke-width="0.6"/>
<text x="484.8" y="234.7" text-anchor="middle" font-size="8" letter-spacing="0.3">0</text>
<line x1="523.3" y1="224.3" x2="523.3" y2="221.7" stroke="#a8a8a8" stroke-width="0.6"/>
<line x1="523.3" y1="5.6" x2="523.3" y2="8.2" stroke="#a8a8a8" stroke-width="0.6"/>
<text x="523.55" y="234.7" text-anchor="middle" font-size="8" letter-spacing="0.3">5</text>
<line x1="562.05" y1="224.3" x2="562.05" y2="221.7" stroke="#a8a8a8" stroke-width="0.6"/>
<line x1="562.05" y1="5.6" x2="562.05" y2="8.2" stroke="#a8a8a8" stroke-width="0.6"/>
<text x="562.3" y="234.7" text-anchor="middle" font-size="8" letter-spacing="0.3">10</text>
<line x1="600.8" y1="224.3" x2="600.8" y2="221.7" stroke="#a8a8a8" stroke-width="0.6"/>
<line x1="600.8" y1="5.6" x2="600.8" y2="8.2" stroke="#a8a8a8" stroke-width="0.6"/>
<text x="601.05" y="234.7" text-anchor="middle" font-size="8" letter-spacing="0.3">15</text>
<line x1="639.55" y1="224.3" x2="639.55" y2="221.7" stroke="#a8a8a8" stroke-width="0.6"/>
<line x1="639.55" y1="5.6" x2="639.55" y2="8.2" stroke="#a8a8a8" stroke-width="0.6"/>
<text x="639.8" y="234.7" text-anchor="middle" font-size="8" letter-spacing="0.3">20</text>
<line x1="678.3" y1="224.3" x2="678.3" y2="221.7" stroke="#a8a8a8" stroke-width="0.6"/>
<line x1="678.3" y1="5.6" x2="678.3" y2="8.2" stroke="#a8a8a8" stroke-width="0.6"/>
<text x="678.55" y="234.7" text-anchor="middle" font-size="8" letter-spacing="0.3">25</text>
<line x1="484.6" y1="224.3" x2="487.2" y2="224.3" stroke="#a8a8a8" stroke-width="0.6"/>
<line x1="678.2" y1="224.3" x2="675.6" y2="224.3" stroke="#a8a8a8" stroke-width="0.6"/>
<text x="482.2" y="227.7" text-anchor="end" font-size="8" letter-spacing="0.3">0</text>
<line x1="484.6" y1="187.85" x2="487.2" y2="187.85" stroke="#a8a8a8" stroke-width="0.6"/>
<line x1="678.2" y1="187.85" x2="675.6" y2="187.85" stroke="#a8a8a8" stroke-width="0.6"/>
<text x="482.2" y="191.25" text-anchor="end" font-size="8" letter-spacing="0.3">100</text>
<line x1="484.6" y1="151.4" x2="487.2" y2="151.4" stroke="#a8a8a8" stroke-width="0.6"/>
<line x1="678.2" y1="151.4" x2="675.6" y2="151.4" stroke="#a8a8a8" stroke-width="0.6"/>
<text x="482.2" y="154.8" text-anchor="end" font-size="8" letter-spacing="0.3">200</text>
<line x1="484.6" y1="114.95" x2="487.2" y2="114.95" stroke="#a8a8a8" stroke-width="0.6"/>
<line x1="678.2" y1="114.95" x2="675.6" y2="114.95" stroke="#a8a8a8" stroke-width="0.6"/>
<text x="482.2" y="118.35" text-anchor="end" font-size="8" letter-spacing="0.3">300</text>
<line x1="484.6" y1="78.5" x2="487.2" y2="78.5" stroke="#a8a8a8" stroke-width="0.6"/>
<line x1="678.2" y1="78.5" x2="675.6" y2="78.5" stroke="#a8a8a8" stroke-width="0.6"/>
<text x="482.2" y="81.9" text-anchor="end" font-size="8" letter-spacing="0.3">400</text>
<line x1="484.6" y1="42.05" x2="487.2" y2="42.05" stroke="#a8a8a8" stroke-width="0.6"/>
<line x1="678.2" y1="42.05" x2="675.6" y2="42.05" stroke="#a8a8a8" stroke-width="0.6"/>
<text x="482.2" y="45.45" text-anchor="end" font-size="8" letter-spacing="0.3">500</text>
<line x1="484.6" y1="5.6" x2="487.2" y2="5.6" stroke="#a8a8a8" stroke-width="0.6"/>
<line x1="678.2" y1="5.6" x2="675.6" y2="5.6" stroke="#a8a8a8" stroke-width="0.6"/>
<text x="482.2" y="9" text-anchor="end" font-size="8" letter-spacing="0.3">600</text>
<rect x="484.6" y="5.6" width="193.6" height="218.7" fill="none" stroke="#a8a8a8" stroke-width="0.8"/>
<rect x="490.3" y="217.01" width="4" height="7.29" fill="#8d00d3" stroke="rgba(0,0,0,0.6)" stroke-width="0.4"/>
<rect x="490.3" y="71.28" width="4" height="145.73" fill="#0000f5" stroke="rgba(0,0,0,0.6)" stroke-width="0.4"/>
<rect x="498.05" y="206.8" width="4" height="17.5" fill="#8d00d3" stroke="rgba(0,0,0,0.6)" stroke-width="0.4"/>
<rect x="498.05" y="61.81" width="4" height="145" fill="#0000f5" stroke="rgba(0,0,0,0.6)" stroke-width="0.4"/>
<rect x="505.8" y="212.27" width="4" height="12.03" fill="#8d00d3" stroke="rgba(0,0,0,0.6)" stroke-width="0.4"/>
<rect x="505.8" y="67.27" width="4" height="145" fill="#0000f5" stroke="rgba(0,0,0,0.6)" stroke-width="0.4"/>
<rect x="513.55" y="214.46" width="4" height="9.84" fill="#8d00d3" stroke="rgba(0,0,0,0.6)" stroke-width="0.4"/>
<rect x="513.55" y="69.46" width="4" height="145" fill="#0000f5" stroke="rgba(0,0,0,0.6)" stroke-width="0.4"/>
<rect x="521.3" y="223.57" width="4" height="0.73" fill="#8d00d3" stroke="rgba(0,0,0,0.6)" stroke-width="0.4"/>
<rect x="521.3" y="78.21" width="4" height="145.36" fill="#0000f5" stroke="rgba(0,0,0,0.6)" stroke-width="0.4"/>
<rect x="529.05" y="210.45" width="4" height="13.85" fill="#8d00d3" stroke="rgba(0,0,0,0.6)" stroke-width="0.4"/>
<rect x="529.05" y="65.09" width="4" height="145.36" fill="#0000f5" stroke="rgba(0,0,0,0.6)" stroke-width="0.4"/>
<rect x="536.8" y="214.46" width="4" height="9.84" fill="#8d00d3" stroke="rgba(0,0,0,0.6)" stroke-width="0.4"/>
<rect x="536.8" y="69.1" width="4" height="145.36" fill="#0000f5" stroke="rgba(0,0,0,0.6)" stroke-width="0.4"/>
<rect x="544.55" y="220.66" width="4" height="3.64" fill="#8d00d3" stroke="rgba(0,0,0,0.6)" stroke-width="0.4"/>
<rect x="544.55" y="75.29" width="4" height="145.36" fill="#0000f5" stroke="rgba(0,0,0,0.6)" stroke-width="0.4"/>
<rect x="552.3" y="212.27" width="4" height="12.03" fill="#8d00d3" stroke="rgba(0,0,0,0.6)" stroke-width="0.4"/>
<rect x="552.3" y="67.27" width="4" height="145" fill="#0000f5" stroke="rgba(0,0,0,0.6)" stroke-width="0.4"/>
<rect x="560.05" y="203.52" width="4" height="20.78" fill="#8d00d3" stroke="rgba(0,0,0,0.6)" stroke-width="0.4"/>
<rect x="560.05" y="58.53" width="4" height="145" fill="#0000f5" stroke="rgba(0,0,0,0.6)" stroke-width="0.4"/>
<rect x="567.8" y="199.51" width="4" height="24.79" fill="#8d00d3" stroke="rgba(0,0,0,0.6)" stroke-width="0.4"/>
<rect x="567.8" y="54.52" width="4" height="145" fill="#0000f5" stroke="rgba(0,0,0,0.6)" stroke-width="0.4"/>
<rect x="575.55" y="188.94" width="4" height="35.36" fill="#8d00d3" stroke="rgba(0,0,0,0.6)" stroke-width="0.4"/>
<rect x="575.55" y="43.95" width="4" height="145" fill="#0000f5" stroke="rgba(0,0,0,0.6)" stroke-width="0.4"/>
<rect x="583.3" y="192.22" width="4" height="32.08" fill="#8d00d3" stroke="rgba(0,0,0,0.6)" stroke-width="0.4"/>
<rect x="583.3" y="46.5" width="4" height="145.73" fill="#0000f5" stroke="rgba(0,0,0,0.6)" stroke-width="0.4"/>
<rect x="591.05" y="198.06" width="4" height="26.24" fill="#8d00d3" stroke="rgba(0,0,0,0.6)" stroke-width="0.4"/>
<rect x="591.05" y="52.33" width="4" height="145.73" fill="#0000f5" stroke="rgba(0,0,0,0.6)" stroke-width="0.4"/>
<rect x="598.8" y="213.73" width="4" height="10.57" fill="#8d00d3" stroke="rgba(0,0,0,0.6)" stroke-width="0.4"/>
<rect x="598.8" y="68.37" width="4" height="145.36" fill="#0000f5" stroke="rgba(0,0,0,0.6)" stroke-width="0.4"/>
<rect x="606.55" y="82.22" width="4" height="142.08" fill="#0000f5" stroke="rgba(0,0,0,0.6)" stroke-width="0.4"/>
<rect x="614.3" y="215.92" width="4" height="8.38" fill="#8d00d3" stroke="rgba(0,0,0,0.6)" stroke-width="0.4"/>
<rect x="614.3" y="70.92" width="4" height="145" fill="#0000f5" stroke="rgba(0,0,0,0.6)" stroke-width="0.4"/>
<rect x="622.05" y="223.94" width="4" height="0.36" fill="#8d00d3" stroke="rgba(0,0,0,0.6)" stroke-width="0.4"/>
<rect x="622.05" y="78.21" width="4" height="145.73" fill="#0000f5" stroke="rgba(0,0,0,0.6)" stroke-width="0.4"/>
<rect x="629.8" y="210.81" width="4" height="13.49" fill="#8d00d3" stroke="rgba(0,0,0,0.6)" stroke-width="0.4"/>
<rect x="629.8" y="65.09" width="4" height="145.73" fill="#0000f5" stroke="rgba(0,0,0,0.6)" stroke-width="0.4"/>
<rect x="637.55" y="217.74" width="4" height="6.56" fill="#8d00d3" stroke="rgba(0,0,0,0.6)" stroke-width="0.4"/>
<rect x="637.55" y="72.38" width="4" height="145.36" fill="#0000f5" stroke="rgba(0,0,0,0.6)" stroke-width="0.4"/>
<rect x="645.3" y="217.01" width="4" height="7.29" fill="#8d00d3" stroke="rgba(0,0,0,0.6)" stroke-width="0.4"/>
<rect x="645.3" y="72.01" width="4" height="145" fill="#0000f5" stroke="rgba(0,0,0,0.6)" stroke-width="0.4"/>
<rect x="653.05" y="80.03" width="4" height="144.27" fill="#0000f5" stroke="rgba(0,0,0,0.6)" stroke-width="0.4"/>
<rect x="660.8" y="89.87" width="4" height="134.43" fill="#0000f5" stroke="rgba(0,0,0,0.6)" stroke-width="0.4"/>
<rect x="668.55" y="218.47" width="4" height="5.83" fill="#8d00d3" stroke="rgba(0,0,0,0.6)" stroke-width="0.4"/>
<rect x="668.55" y="73.47" width="4" height="145" fill="#0000f5" stroke="rgba(0,0,0,0.6)" stroke-width="0.4"/>
<polyline points="492.3,71.28 500.05,61.81 507.8,67.27 515.55,69.46 523.3,78.21 531.05,65.09 538.8,69.1 546.55,75.29 554.3,67.27 562.05,58.53 569.8,54.52 577.55,43.95 585.3,46.5 593.05,52.33 600.8,68.37 608.55,82.22 616.3,70.92 624.05,78.21 631.8,65.09 639.55,72.38 647.3,72.01 655.05,80.03 662.8,89.87 670.55,73.47" fill="none" stroke="#111" stroke-width="0.8"/>
<rect x="491" y="69.98" width="2.6" height="2.6" fill="#222" stroke="#111" stroke-width="0.4"/>
<rect x="498.75" y="60.51" width="2.6" height="2.6" fill="#222" stroke="#111" stroke-width="0.4"/>
<rect x="506.5" y="65.97" width="2.6" height="2.6" fill="#222" stroke="#111" stroke-width="0.4"/>
<rect x="514.25" y="68.16" width="2.6" height="2.6" fill="#222" stroke="#111" stroke-width="0.4"/>
<rect x="522" y="76.91" width="2.6" height="2.6" fill="#222" stroke="#111" stroke-width="0.4"/>
<rect x="529.75" y="63.79" width="2.6" height="2.6" fill="#222" stroke="#111" stroke-width="0.4"/>
<rect x="537.5" y="67.8" width="2.6" height="2.6" fill="#222" stroke="#111" stroke-width="0.4"/>
<rect x="545.25" y="73.99" width="2.6" height="2.6" fill="#222" stroke="#111" stroke-width="0.4"/>
<rect x="553" y="65.97" width="2.6" height="2.6" fill="#222" stroke="#111" stroke-width="0.4"/>
<rect x="560.75" y="57.23" width="2.6" height="2.6" fill="#222" stroke="#111" stroke-width="0.4"/>
<rect x="568.5" y="53.22" width="2.6" height="2.6" fill="#222" stroke="#111" stroke-width="0.4"/>
<rect x="576.25" y="42.65" width="2.6" height="2.6" fill="#222" stroke="#111" stroke-width="0.4"/>
<rect x="584" y="45.2" width="2.6" height="2.6" fill="#222" stroke="#111" stroke-width="0.4"/>
<rect x="591.75" y="51.03" width="2.6" height="2.6" fill="#222" stroke="#111" stroke-width="0.4"/>
<rect x="599.5" y="67.07" width="2.6" height="2.6" fill="#222" stroke="#111" stroke-width="0.4"/>
<rect x="607.25" y="80.92" width="2.6" height="2.6" fill="#222" stroke="#111" stroke-width="0.4"/>
<rect x="615" y="69.62" width="2.6" height="2.6" fill="#222" stroke="#111" stroke-width="0.4"/>
<rect x="622.75" y="76.91" width="2.6" height="2.6" fill="#222" stroke="#111" stroke-width="0.4"/>
<rect x="630.5" y="63.79" width="2.6" height="2.6" fill="#222" stroke="#111" stroke-width="0.4"/>
<rect x="638.25" y="71.08" width="2.6" height="2.6" fill="#222" stroke="#111" stroke-width="0.4"/>
<rect x="646" y="70.71" width="2.6" height="2.6" fill="#222" stroke="#111" stroke-width="0.4"/>
<rect x="653.75" y="78.73" width="2.6" height="2.6" fill="#222" stroke="#111" stroke-width="0.4"/>
<rect x="661.5" y="88.57" width="2.6" height="2.6" fill="#222" stroke="#111" stroke-width="0.4"/>
<rect x="669.25" y="72.17" width="2.6" height="2.6" fill="#222" stroke="#111" stroke-width="0.4"/>
<rect x="527.6" y="9.1" width="106.9" height="9.3" fill="#fff" stroke="#c2c2c2" stroke-width="0.8"/>
<rect x="529.4" y="11.1" width="14.4" height="5.6" fill="#8d00d3" stroke="rgba(0,0,0,0.55)" stroke-width="0.4"/>
<text x="544.8" y="16.5" font-size="7.7">AC</text>
<rect x="558.6" y="11.1" width="14.4" height="5.6" fill="#0000f5" stroke="rgba(0,0,0,0.55)" stroke-width="0.4"/>
<text x="574" y="16.5" font-size="7.7">ER</text>
<line x1="587.2" y1="13.9" x2="601.6" y2="13.9" stroke="#111" stroke-width="0.9"/>
<rect x="593.3" y="12.8" width="2.2" height="2.2" fill="rgba(0,0,0,0.3)" stroke="#111" stroke-width="0.6"/>
<text x="602.6" y="16.5" font-size="7.7">Cold load</text>
<text transform="translate(463.6 114.8) rotate(-90)" x="0" y="2.84" text-anchor="middle" font-size="8.6" textLength="41.5" lengthAdjust="spacingAndGlyphs">Power(kW)</text>
<text x="581.7" y="244.3" text-anchor="middle" font-size="9.2">Time(hour)</text>
<text x="551" y="263.5" font-size="11.4">(c)</text>
<text x="569" y="263.5" font-size="11.4">Cold</text>
</svg>
</body></html>
